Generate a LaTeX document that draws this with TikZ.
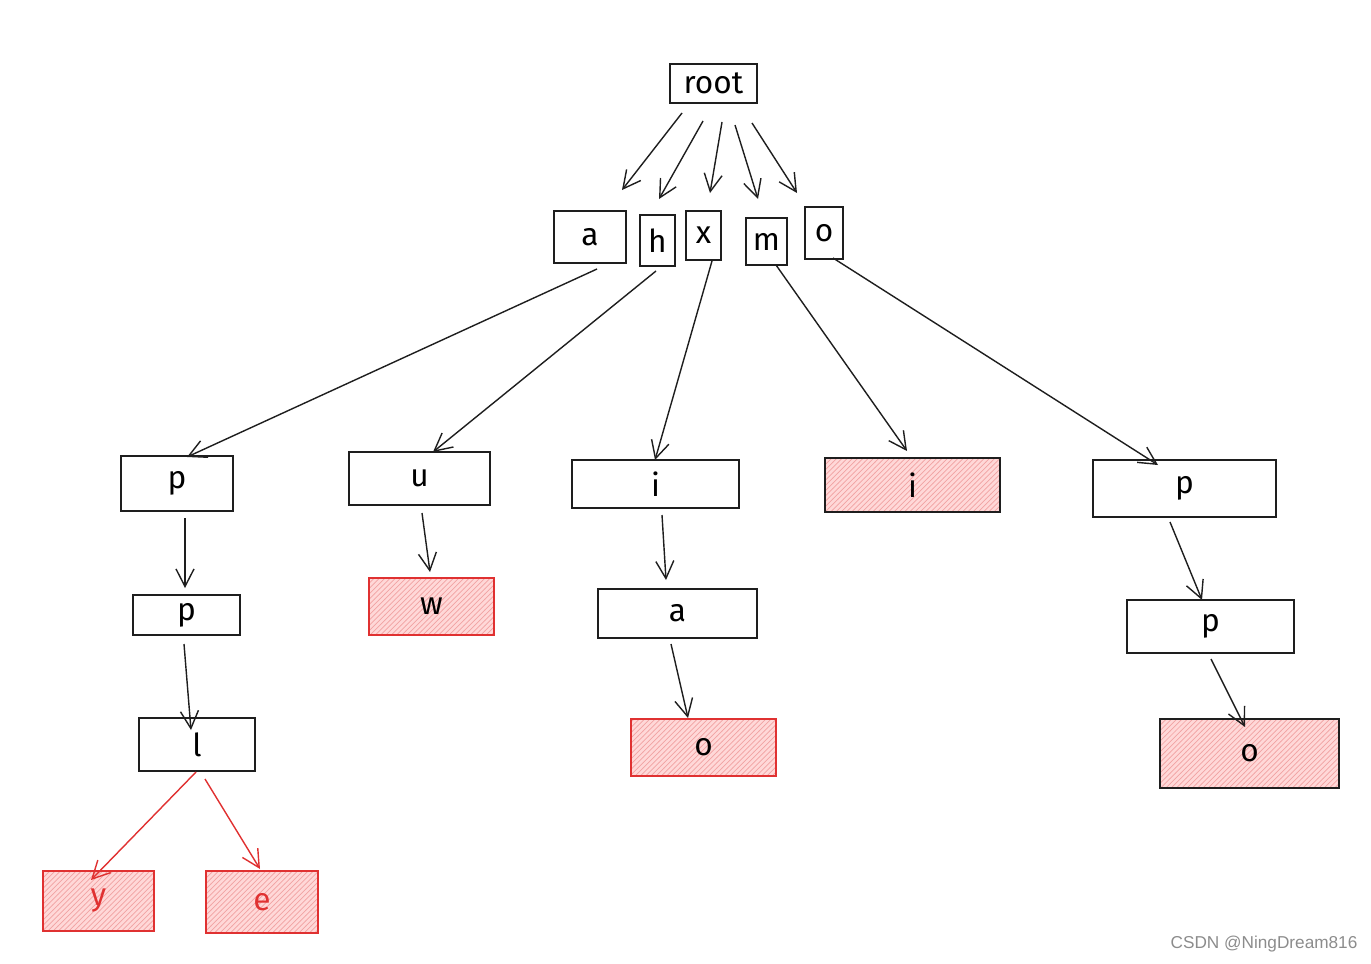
\documentclass[tikz,border=0pt]{standalone}
\usepackage{fontspec}
\setmainfont{Fira Sans}
\usepackage{tikz}
\usetikzlibrary{arrows.meta,calc,patterns}

\definecolor{ink}{HTML}{1E1E1E}
\definecolor{leafred}{HTML}{E03131}
\definecolor{leafpink}{HTML}{FFD8D8}

\tikzset{
    box/.style={draw=ink, line width=1pt, inner sep=0pt,
                font=\fontsize{18}{20}\selectfont},
    leaf/.style={box, preaction={fill=leafpink},
                 pattern=north east lines, pattern color=leafred!45},
    redleaf/.style={leaf, draw=leafred},
    link/.style={draw=ink, line width=0.8pt,
                 -{Straight Barb[length=0.35cm,width=0.36cm]}},
}

\begin{document}
\begin{tikzpicture}[x=0.02cm, y=-0.02cm]
    \useasboundingbox (0,0) rectangle (1371,963);

    \begin{scope}
        \node[box, minimum width=1.74cm, minimum height=0.78cm] (root) at (713.5,83.5) {root};
        \node[box, minimum width=1.44cm, minimum height=1.04cm] (a) at (590,237) {a};
        \node[box, minimum width=0.70cm, minimum height=1.02cm] (h) at (657.5,240.5) {h};
        \node[box, minimum width=0.70cm, minimum height=0.98cm] (x) at (703.5,235.5) {x};
        \node[box, minimum width=0.82cm, minimum height=0.94cm] (m) at (766.5,241.5) {m};
        \node[box, minimum width=0.76cm, minimum height=1.04cm] (o) at (824,233) {o};
        \node[box, minimum width=2.24cm, minimum height=1.10cm] (ap) at (177,483.5) {p};
        \node[box, minimum width=2.82cm, minimum height=1.06cm] (hu) at (419.5,478.5) {u};
        \node[box, minimum width=3.34cm, minimum height=0.96cm] (xi) at (655.5,484) {i};
        \node[leaf, minimum width=3.50cm, minimum height=1.08cm] (mi) at (912.5,485) {i};
        \node[box, minimum width=3.66cm, minimum height=1.14cm] (op) at (1184.5,488.5) {p};
        \node[box, minimum width=2.14cm, minimum height=0.80cm] (app) at (186.5,615) {p};
        \node[redleaf, minimum width=2.50cm, minimum height=1.14cm] (huw) at (431.5,606.5) {w};
        \node[box, minimum width=3.18cm, minimum height=0.98cm] (xia) at (677.5,613.5) {a};
        \node[box, minimum width=3.34cm, minimum height=1.06cm] (opp) at (1210.5,626.5) {p};
        \node[box, minimum width=2.32cm, minimum height=1.06cm] (appl) at (197,744.5) {l};
        \node[redleaf, minimum width=2.90cm, minimum height=1.14cm] (xiao) at (703.5,747.5) {o};
        \node[leaf, minimum width=3.58cm, minimum height=1.38cm] (oppo) at (1249.5,753.5) {o};
        \node[redleaf, text=leafred, minimum width=2.22cm, minimum height=1.20cm] (apply) at (98.5,901) {y};
        \node[redleaf, text=leafred, minimum width=2.24cm, minimum height=1.24cm] (apple) at (262,902) {e};
    \end{scope}

    \begin{scope}[link]
        \draw ($(root)+(-31.5,29.5)$) -- ($(a)+(32,-47)$);
        \draw ($(root)+(-10.5,37.5)$) -- ($(h)+(1.5,-41.5)$);
        \draw ($(root)+(8.5,38.5)$) -- ($(x)+(6.5,-42.5)$);
        \draw ($(root)+(21.5,41.5)$) -- ($(m)+(-8.5,-42.5)$);
        \draw ($(root)+(38.5,39.5)$) -- ($(o)+(-27,-40)$);
        \draw ($(a)+(7,32)$) -- ($(ap)+(10,-26.5)$);
        \draw ($(h)+(-1.5,30.5)$) -- ($(hu)+(13.5,-26.5)$);
        \draw ($(x)+(8.5,25.5)$) -- ($(xi)+(-0.5,-24)$);
        \draw ($(m)+(9.5,23.5)$) -- ($(mi)+(-5.5,-34)$);
        \draw ($(o)+(9,25)$) -- ($(op)+(-26.5,-23.5)$);
        \draw ($(ap)+(8,34.5)$) -- ($(app)+(-1.5,-27)$);
        \draw ($(hu)+(2.5,34.5)$) -- ($(huw)+(-1.5,-34.5)$);
        \draw ($(xi)+(6.5,31)$) -- ($(xia)+(-11.5,-33.5)$);
        \draw ($(op)+(-14.5,33.5)$) -- ($(opp)+(-8.5,-26.5)$);
        \draw ($(app)+(-2.5,29)$) -- ($(appl)+(-6,-14.5)$);
        \draw ($(xia)+(-6.5,30.5)$) -- ($(xiao)+(-15.5,-29.5)$);
        \draw ($(opp)+(0.5,32.5)$) -- ($(oppo)+(-4.5,-26.5)$);
        % red branch at the end of app-l
        \draw[leafred] ($(appl)+(-1,27.5)$) -- ($(apply)+(-7.5,-21)$);
        \draw[leafred] ($(appl)+(8,34.5)$) -- ($(apple)+(-2,-33)$);
    \end{scope}

    \node[text=black!45, font=\fontsize{9.8}{12}\selectfont\fontspec{Liberation Sans}] (mark) at (1264,944) {CSDN @NingDream816};
\end{tikzpicture}
\end{document}
